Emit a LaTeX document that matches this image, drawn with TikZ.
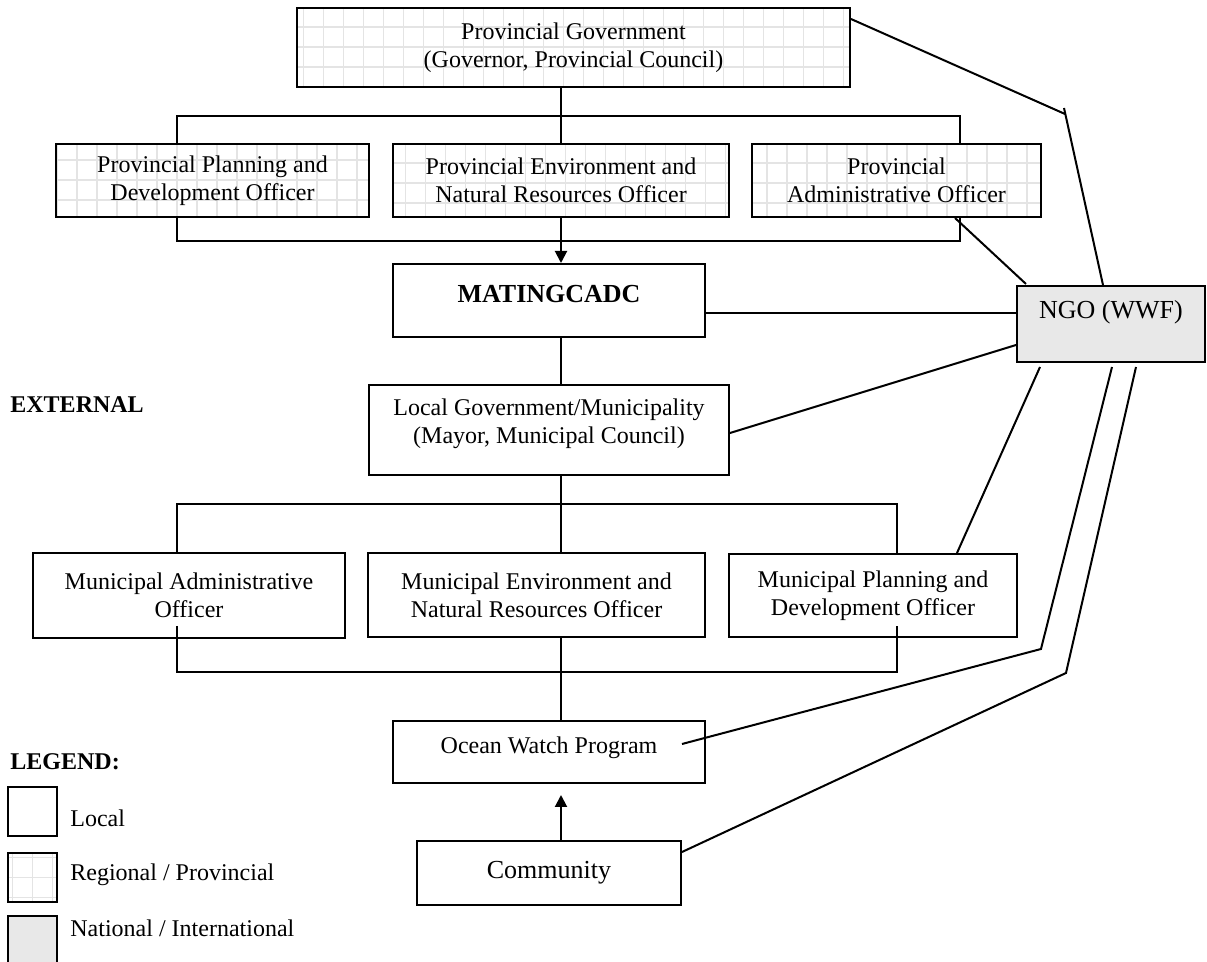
\documentclass[tikz,border=0pt]{standalone}
\usepackage{fontspec}
\setmainfont{Liberation Serif}
\usetikzlibrary{arrows.meta,calc}
\definecolor{gridgrey}{HTML}{E4E4E4}
\definecolor{natgrey}{HTML}{E8E8E8}
\tikzset{
  box/.style={draw,line width=1pt,rectangle,inner sep=0pt,align=center,
    font=\fontsize{12}{14}\selectfont},
  localbox/.style={box,fill=white},
  provbox/.style={box,fill=white,path picture={\draw[gridgrey,line width=.8pt]
    (path picture bounding box.south west) grid[step=10pt]
    (path picture bounding box.north east);}},
  natbox/.style={box,fill=natgrey},
  link/.style={line width=1pt},
  tip/.style={-{Triangle[length=6pt,width=6pt]}},
  plain/.style={anchor=west,inner sep=0pt,font=\fontsize{12}{14}\selectfont},
  heading/.style={anchor=west,inner sep=0pt,font=\fontsize{12}{14}\selectfont\bfseries}
}
\begin{document}
\begin{tikzpicture}[x=.5pt,y=-.5pt]
\useasboundingbox (0,0) rectangle (1207,962);
% provincial level
\node[provbox,minimum width=276.5pt,minimum height=39.5pt] (pg) at (573.5,47.5)
  {Provincial Government\\(Governor, Provincial Council)};
\node[provbox,minimum width=156.5pt,minimum height=36.5pt] (ppdo) at (212.5,180.5)
  {Provincial Planning and\\Development Officer};
\node[provbox,minimum width=168pt,minimum height=36.5pt] (penro) at (561,180.5)
  {Provincial Environment and\\Natural Resources Officer};
\node[provbox,minimum width=144.5pt,minimum height=36.5pt] (pao) at (896.5,180.5)
  {Provincial\\Administrative Officer};
% local level
\node[localbox,minimum width=156pt,minimum height=36.5pt,text depth=7pt,
  font=\fontsize{13}{15}\selectfont\bfseries] (cadc) at (549,300.5) {MATINGCADC};
\node[localbox,minimum width=180pt,minimum height=45pt,text depth=9pt] (lgu) at (549,430)
  {Local Government/Municipality\\(Mayor, Municipal Council)};
\node[localbox,minimum width=156pt,minimum height=42.5pt] (mao) at (189,595.5)
  {Municipal Administrative\\Officer};
\node[localbox,minimum width=168.5pt,minimum height=42pt] (menro) at (536.5,595)
  {Municipal Environment and\\Natural Resources Officer};
\node[localbox,minimum width=144pt,minimum height=41.5pt] (mpdo) at (873,595.5)
  {Municipal Planning and\\Development Officer};
\node[localbox,minimum width=156pt,minimum height=31pt,text depth=7pt] (owp) at (549,752)
  {Ocean Watch Program};
\node[localbox,minimum width=132pt,minimum height=32pt,
  font=\fontsize{13}{15}\selectfont] (comm) at (549,873) {Community};
% national level
\node[natbox,minimum width=94pt,minimum height=38pt,text depth=15pt,
  font=\fontsize{13}{15}\selectfont] (ngo) at (1111,324) {NGO (WWF)};
% side texts and legend
\node[heading] (ext) at (10,405) {EXTERNAL};
\node[heading] (leg) at (10,762) {LEGEND:};
\node[localbox,minimum width=24.5pt,minimum height=24.5pt] (keyloc) at (32.5,811.5) {};
\node[provbox,minimum width=24.5pt,minimum height=24.5pt] (keyprov) at (32.5,877.5) {};
\node[natbox,minimum width=24.5pt,minimum height=27pt] (keynat) at (32.5,943) {};
\node[plain] (keyloctxt) at (70,818) {Local};
\node[plain] (keyprovtxt) at (70,875) {Regional / Provincial};
\node[plain] (keynattxt) at (70,928) {National / International};
% bars and links
\coordinate (tbl) at (177,116);
\coordinate (tbr) at (960,116);
\coordinate (bbl) at (177,241);
\coordinate (bbr) at (960,241);
\coordinate (mbl) at (177,504);
\coordinate (mbr) at (897,504);
\coordinate (lbl) at (177,672);
\coordinate (lbr) at (897,672);
\draw[link] (pg.south -| penro.north) -- (penro.north);
\draw[link] (ppdo.north -| tbl) |- (tbr) -- (pao.north -| tbr);
\draw[link] (ppdo.south -| bbl) |- (bbr) -- (pao.south -| bbr);
\draw[link,tip] (penro.south) -- (cadc.north -| penro.south);
\draw[link] (cadc.south -| penro.south) -- (lgu.north -| penro.south);
\draw[link] (lgu.south -| penro.south) -- (menro.north -| penro.south);
\draw[link] (mao.north -| mbl) |- (mbr) -- (mpdo.north -| mbr);
\draw[link] ($(mao.south -| lbl)+(0,-13)$) |- (lbr) -- ($(mpdo.south -| lbr)+(0,-12)$);
\draw[link] (menro.south -| penro.south) -- (owp.north -| penro.south);
\draw[link,tip] (comm.north -| penro.south) -- ($(owp.south -| penro.south)+(0,11)$);
% links to the NGO
\coordinate (k1) at (1065,114);
\coordinate (k2) at (1041,649);
\coordinate (k3) at (1066,673);
\coordinate (c1) at ($(cadc.east)+(0,12.5)$);
\draw[link] ($(pg.north east)+(0,12)$) -- (k1);
\draw[link] ($(k1)+(-1,-6)$) -- ($(ngo.north west)+(87,0)$);
\draw[link] ($(pao.south)+(58.5,0)$) -- ($(ngo.north west)+(10,-1)$);
\draw[link] (c1) -- (c1 -| ngo.west);
\draw[link] ($(lgu.east)+(0,3)$) -- ($(ngo.west)+(0,21)$);
\draw[link] ($(ngo.south west)+(24,4)$) -- ($(mpdo.north east)+(-61,0)$);
\draw[link] ($(ngo.south west)+(96,4)$) -- (k2) -- ($(owp.east)+(-24,-8)$);
\draw[link] ($(ngo.south west)+(120,4)$) -- (k3) -- ($(comm.east)+(0,-21)$);
\end{tikzpicture}
\end{document}
